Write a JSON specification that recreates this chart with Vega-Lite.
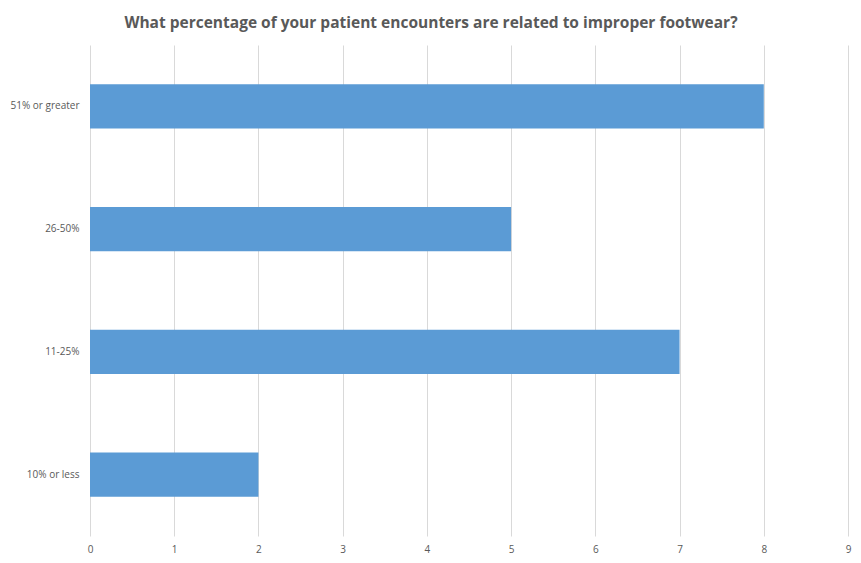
{
  "$schema": "https://vega.github.io/schema/vega-lite/v6.json",
  "autosize": "none",
  "width": 758,
  "height": 491,
  "padding": {"left": 90, "top": 45, "right": 13, "bottom": 27},
  "background": "white",
  "title": {
    "text": "What percentage of your patient encounters are related to improper footwear?",
    "font": "Open Sans",
    "fontSize": 15.5,
    "fontWeight": "bold",
    "color": "#595959",
    "anchor": "middle",
    "dx": -38,
    "offset": 14
  },
  "data": {
    "values": [
      {"category": "51% or greater", "count": 8},
      {"category": "26-50%", "count": 5},
      {"category": "11-25%", "count": 7},
      {"category": "10% or less", "count": 2}
    ]
  },
  "mark": {"type": "bar", "color": "#5B9BD5"},
  "encoding": {
    "y": {
      "field": "category",
      "type": "nominal",
      "sort": ["51% or greater", "26-50%", "11-25%", "10% or less"],
      "scale": {"paddingInner": 0.64, "paddingOuter": 0.32},
      "axis": {
        "title": null,
        "domain": false,
        "ticks": false,
        "labelPadding": 11,
        "labelFont": "Open Sans",
        "labelFontSize": 10,
        "labelColor": "#595959"
      }
    },
    "x": {
      "field": "count",
      "type": "quantitative",
      "scale": {"domain": [0, 9], "nice": false},
      "axis": {
        "title": null,
        "domain": false,
        "ticks": false,
        "values": [0, 1, 2, 3, 4, 5, 6, 7, 8, 9],
        "labelOverlap": false,
        "labelFlush": false,
        "grid": true,
        "gridColor": "#d9d9d9",
        "labelPadding": 8,
        "labelFont": "Open Sans",
        "labelFontSize": 10,
        "labelColor": "#595959"
      }
    }
  },
  "config": {"view": {"stroke": null}}
}
